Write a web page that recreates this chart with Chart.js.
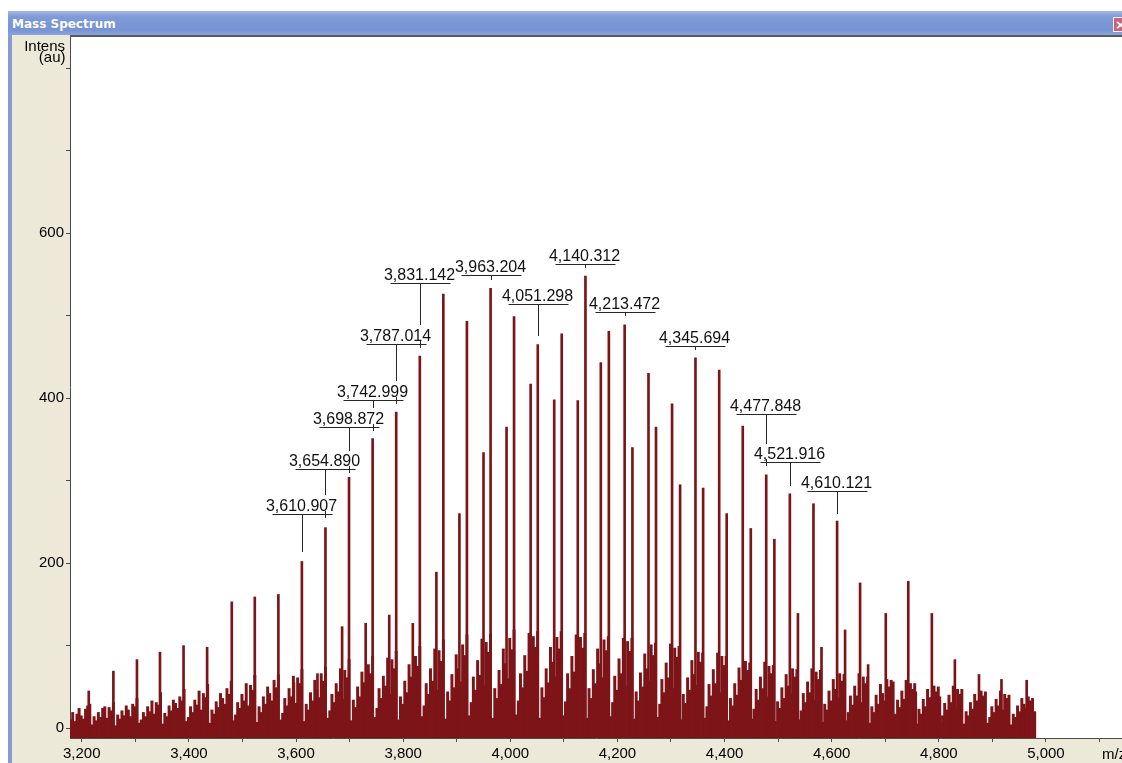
<!DOCTYPE html>
<html>
<head>
<meta charset="utf-8">
<title>Mass Spectrum</title>
<script src="https://cdn.jsdelivr.net/npm/chart.js@4.4.0/dist/chart.umd.min.js"></script>
<style>
    html, body { margin: 0; padding: 0; background: #fff; width: 1122px; height: 763px; overflow: hidden; }
    #titlebar { position: absolute; left: 8px; top: 11px; width: 1114px; height: 24px;
        background: linear-gradient(#a3b8e6, #7e9ad7 25%, #7894d3 80%, #8aa4dd); }
    #titlebar span { position: absolute; left: 4px; top: 6px; font: bold 12px "DejaVu Sans", sans-serif;
        color: #fff; text-shadow: 0 0 1px #6a86c8; white-space: nowrap; }
    #closeBtn { position: absolute; left: 1105px; top: 6px; width: 15px; height: 15px; box-sizing: border-box;
        background: #c4667d; border: 1px solid #eee; color: #fff; font: bold 13px "DejaVu Sans", sans-serif;
        line-height: 13px; text-align: center; }
    #stripe { position: absolute; left: 8px; top: 35px; width: 4px; height: 728px; background: #8b98d8; }
    #panel { position: absolute; left: 12px; top: 35px; width: 1110px; height: 728px; background: #ece9d8; }
    canvas { position: absolute; left: 0; top: 0; }
</style>
</head>
<body>
<div id="titlebar"><span>Mass Spectrum</span><div id="closeBtn">&#215;</div></div>
<div id="stripe"></div>
<div id="panel"></div>
<canvas id="spectrum" width="1122" height="763"></canvas>

<script>
// Axis ranges and ticks
const xMin = 3178, xMax = 5142;
const yMin = -12, yMax = 839;
const xTickValues = [3200, 3300, 3400, 3500, 3600, 3700, 3800, 3900, 4000, 4100, 4200, 4300, 4400, 4500, 4600, 4700, 4800, 4900, 5000, 5100];
const xTickLabels = ['3,200', '', '3,400', '', '3,600', '', '3,800', '', '4,000', '', '4,200', '', '4,400', '', '4,600', '', '4,800', '', '5,000', ''];
const yTickValues = [0, 100, 200, 300, 400, 500, 600, 700, 800];
const yTickLabels = ['0', '', '200', '', '400', '', '600', '', ''];

// Background "grass": intensity every 4 m/z starting at 3179 (one row per 44 Da cluster)
const baselineStart = 3179, baselineStep = 4;
const baseline = [
    10, 19, 8, 17, 24, 15, 11, 23, 27,
    29, 4, 14, 9, 19, 13, 24, 26, 12, 25, 21,
    31, 3, 16, 11, 21, 15, 27, 22, 14, 29, 26,
    36, 6, 10, 19, 14, 26, 20, 33, 17, 31, 28,
    43, 5, 18, 14, 27, 21, 34, 30, 24, 38, 33,
    47, 8, 13, 26, 19, 34, 28, 45, 22, 42, 37,
    53, 6, 22, 17, 32, 25, 42, 36, 29, 48, 41,
    57, 9, 16, 31, 24, 41, 33, 54, 27, 52, 46,
    64, 7, 26, 19, 38, 29, 50, 42, 33, 58, 49,
    65, 10, 18, 36, 27, 48, 38, 63, 30, 61, 54,
    71, 8, 29, 22, 43, 33, 58, 47, 37, 66, 57,
    74, 12, 21, 41, 31, 54, 44, 72, 35, 70, 61,
    83, 9, 34, 25, 50, 38, 68, 55, 44, 77, 66,
    87, 13, 24, 48, 36, 63, 51, 85, 41, 83, 72,
    93, 10, 38, 29, 57, 43, 77, 62, 49, 87, 75,
    99, 14, 27, 54, 41, 72, 57, 96, 46, 94, 81,
    107, 11, 44, 33, 65, 49, 89, 72, 56, 101, 88,
    113, 15, 31, 62, 46, 82, 64, 108, 51, 104, 92,
    114, 12, 48, 36, 70, 53, 96, 78, 60, 109, 95,
    119, 16, 33, 66, 49, 88, 69, 115, 54, 111, 98,
    117, 12, 49, 37, 72, 55, 98, 80, 62, 110, 96,
    117, 15, 32, 66, 48, 87, 68, 113, 53, 110, 97,
    115, 12, 48, 36, 71, 54, 96, 78, 61, 107, 94,
    111, 14, 31, 63, 46, 84, 66, 109, 51, 105, 93,
    109, 11, 44, 33, 67, 50, 90, 72, 57, 101, 88,
    103, 13, 29, 59, 43, 79, 61, 102, 48, 97, 86,
    99, 10, 41, 30, 61, 46, 82, 65, 52, 92, 80,
    91, 12, 26, 53, 39, 71, 54, 91, 43, 87, 76,
    87, 9, 36, 27, 54, 40, 73, 58, 46, 81, 70,
    79, 11, 23, 47, 34, 62, 48, 80, 38, 75, 66,
    76, 8, 32, 24, 49, 36, 65, 51, 41, 72, 62,
    71, 10, 21, 42, 31, 56, 43, 72, 34, 68, 59,
    70, 7, 29, 22, 45, 33, 59, 47, 37, 66, 57,
    65, 9, 19, 39, 28, 51, 39, 66, 31, 62, 54,
    62, 6, 26, 19, 40, 29, 53, 42, 33, 59, 50,
    58, 8, 17, 34, 25, 45, 35, 58, 28, 54, 47,
    54, 5, 23, 17, 35, 26, 47, 37, 30, 51, 44,
    50, 7, 15, 30, 22, 40, 31, 51, 25, 47, 41,
    47, 5, 20, 15, 31, 23, 41, 33, 27, 45, 39,
    44, 6, 13, 26, 19, 35, 27, 45, 22, 41, 36,
    40, 4, 17, 13, 27, 20, 36, 29, 24, 38, 33,
    36, 20
];

// Main peak series (44 Da spacing)
const seriesAMz = [3213, 3259, 3303, 3346, 3390, 3434, 3480, 3523, 3567, 3610.9,
    3654.9, 3698.9, 3743.0, 3787.0, 3831.1, 3875, 3919, 3963.2, 4007, 4051.3,
    4096, 4140.3, 4184, 4228, 4272, 4317, 4360, 4404, 4449, 4493,
    4537, 4581, 4625, 4668, 4715, 4757, 4802];
const seriesAInt = [45, 69, 83, 92, 100, 98, 153, 159, 162, 202,
    243, 304, 351, 383, 451, 526, 493, 533, 499, 465,
    478, 548, 481, 340, 365, 295, 291, 260, 242, 229,
    139, 98, 119, 77, 56, 44, 38];

// Second series, offset by about -15 Da
const seriesBMz = [3596, 3640, 3686, 3730, 3774, 3818, 3862, 3905, 3950, 3993,
    4038, 4082, 4126, 4169, 4213.5, 4258, 4302, 4345.7, 4390, 4434,
    4477.8, 4521.9, 4566, 4610.1, 4653, 4701, 4743, 4787, 4830, 4875,
    4917, 4964];
const seriesBInt = [55, 66, 123, 127, 137, 127, 189, 260, 334, 365,
    417, 398, 397, 443, 489, 430, 393, 449, 434, 366,
    307, 284, 272, 251, 176, 139, 178, 139, 83, 65,
    59, 58];

// Peak annotations: text, peak m/z, height of the label bar, end of the connector
const labelText = ['3,610.907', '3,654.890', '3,698.872', '3,742.999', '3,787.014', '3,831.142', '3,963.204',
    '4,051.298', '4,140.312', '4,213.472', '4,345.694', '4,477.848', '4,521.916', '4,610.121'];
const labelMz = [3610.907, 3654.890, 3698.872, 3742.999, 3787.014, 3831.142, 3963.204,
    4051.298, 4140.312, 4213.472, 4345.694, 4477.848, 4521.916, 4610.121];
const labelLine = [259, 314, 365, 398, 466, 539, 549, 514, 563, 504, 463, 381, 323, 288];
const labelTip = [213, 282, 336, 388, 421, 489, 543, 475, 558, 499, 458, 344, 294, 260];
// small marks where a label bar crosses a neighbouring labelled peak: [label index, m/z]
const crossMarks = [[0, 3654.890], [1, 3698.872], [2, 3742.999], [3, 3787.014], [4, 3831.142], [12, 4477.848]];

const RED = '#7d1518';
const AXIS = '#4a4a4a';
const FONT = '"Liberation Sans", Arial, sans-serif';

const toPoints = (xs, ys) => xs.map((x, i) => ({ x: x, y: ys[i] }));

// Paint the plot area white, then annotations on top
const spectrumChrome = {
    id: 'spectrumChrome',
    beforeDraw(chart) {
        const { ctx, chartArea: a } = chart;
        ctx.save();
        ctx.fillStyle = '#fff';
        ctx.fillRect(a.left, a.top, a.right - a.left, a.bottom - a.top);
        ctx.restore();
    },
    afterDraw(chart) {
        const { ctx, chartArea: a } = chart;
        const xs = chart.scales.x, ys = chart.scales.y;
        ctx.save();

        // top frame line
        ctx.fillStyle = '#5a5a5a';
        ctx.fillRect(a.left, a.top - 1, a.right - a.left, 2);

        // peak labels
        ctx.strokeStyle = '#262626';
        ctx.lineWidth = 1;
        ctx.fillStyle = '#111';
        ctx.font = '16px ' + FONT;
        ctx.textAlign = 'center';
        ctx.textBaseline = 'alphabetic';
        labelMz.forEach((mz, i) => {
            const px = Math.round(xs.getPixelForValue(mz)) + 0.5;
            const ly = Math.round(ys.getPixelForValue(labelLine[i])) + 0.5;
            const ty = Math.round(ys.getPixelForValue(labelTip[i]));
            ctx.beginPath();
            ctx.moveTo(px - 30, ly);
            ctx.lineTo(px + 30, ly);
            ctx.moveTo(px, ly);
            ctx.lineTo(px, ty);
            ctx.stroke();
            ctx.fillText(labelText[i], px - 1, ly - 4);
        });
        crossMarks.forEach(([i, mz]) => {
            const px = Math.round(xs.getPixelForValue(mz)) + 0.5;
            const ly = Math.round(ys.getPixelForValue(labelLine[i]));
            ctx.beginPath();
            ctx.moveTo(px, ly - 3);
            ctx.lineTo(px, ly + 4);
            ctx.stroke();
        });

        // axis titles
        ctx.fillStyle = '#000';
        ctx.font = '15px ' + FONT;
        ctx.textAlign = 'right';
        ctx.fillText('Intens', 65, 50.5);
        ctx.fillText('(au)', 65.5, 61.5);
        ctx.textAlign = 'left';
        ctx.fillText('m/z', 1102, 758.5);
        ctx.restore();
    }
};

const ctx = document.getElementById('spectrum').getContext('2d');
new Chart(ctx, {
    type: 'bar',
    data: {
        datasets: [
            {
                label: 'background',
                data: baseline.map((v, i) => ({ x: baselineStart + i * baselineStep, y: v })),
                backgroundColor: RED,
                barThickness: 2.3,
                base: yMin,
                grouped: false
            },
            {
                label: 'series A',
                data: toPoints(seriesAMz, seriesAInt),
                backgroundColor: RED,
                barThickness: 2,
                base: yMin,
                grouped: false
            },
            {
                label: 'series B',
                data: toPoints(seriesBMz, seriesBInt),
                backgroundColor: RED,
                barThickness: 2,
                base: yMin,
                grouped: false
            }
        ]
    },
    options: {
        responsive: false,
        animation: false,
        devicePixelRatio: 1,
        layout: { padding: { top: 36, left: 0, right: 0, bottom: 0 } },
        plugins: {
            legend: { display: false },
            tooltip: { enabled: false }
        },
        scales: {
            x: {
                type: 'linear',
                min: xMin,
                max: xMax,
                offset: false,
                grid: { offset: false, drawOnChartArea: false, tickLength: 4, color: AXIS },
                border: { color: AXIS, width: 1 },
                ticks: {
                    autoSkip: false,
                    maxRotation: 0,
                    padding: 3,
                    color: '#000',
                    font: { family: FONT, size: 15 },
                    callback: (value, index) => xTickLabels[index]
                },
                afterBuildTicks: scale => { scale.ticks = xTickValues.map(v => ({ value: v })); },
                afterFit: scale => { scale.height = 25; }
            },
            y: {
                type: 'linear',
                min: yMin,
                max: yMax,
                grid: { drawOnChartArea: false, tickLength: 4, color: AXIS },
                border: { color: AXIS, width: 1 },
                ticks: {
                    autoSkip: false,
                    padding: 2,
                    color: '#000',
                    font: { family: FONT, size: 15 },
                    callback: (value, index) => yTickLabels[index]
                },
                afterBuildTicks: scale => { scale.ticks = yTickValues.map(v => ({ value: v })); },
                afterFit: scale => { scale.width = 70; }
            }
        }
    },
    plugins: [spectrumChrome]
});
</script>
</body>
</html>
